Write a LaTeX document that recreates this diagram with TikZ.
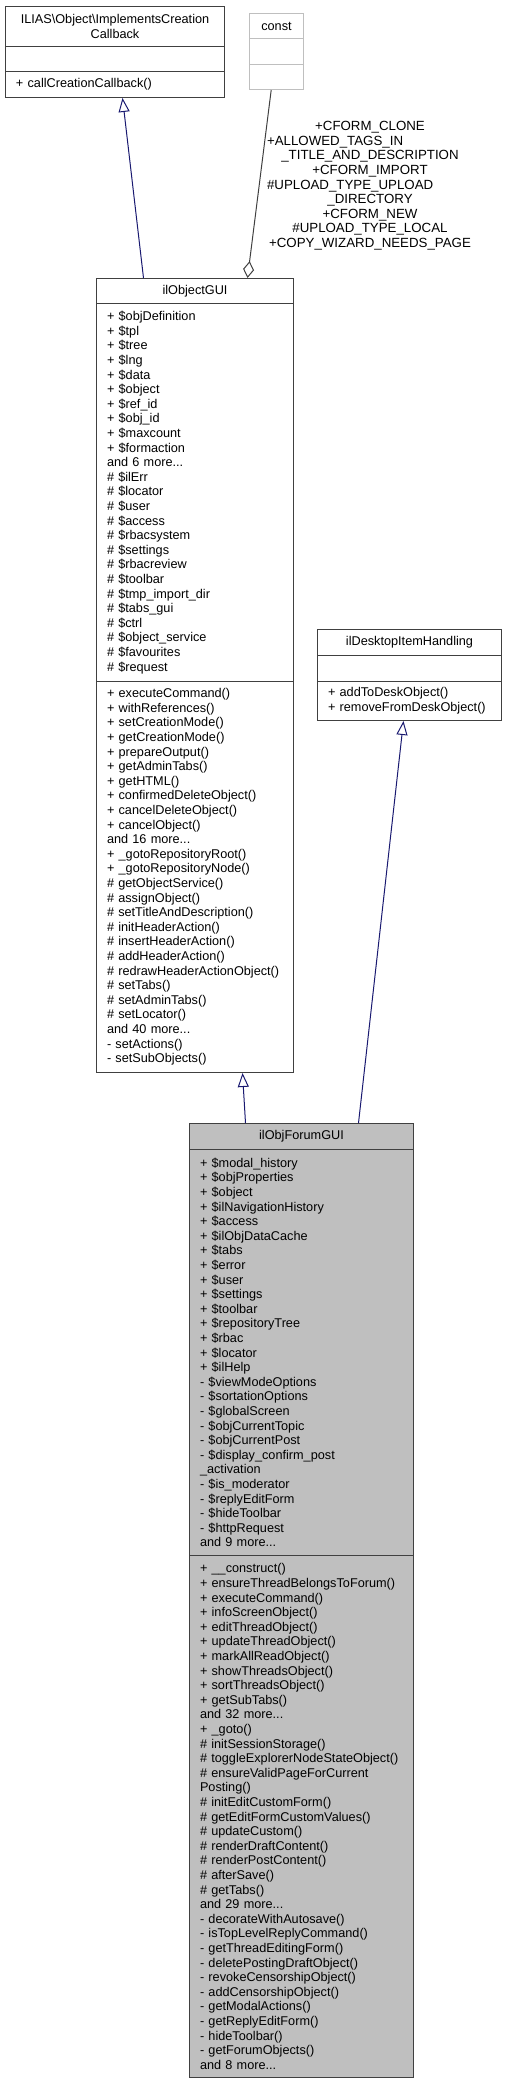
\documentclass[tikz,border=0pt]{standalone}
\usepackage{fontspec}
\setmainfont{Liberation Sans}
\usetikzlibrary{arrows.meta,positioning}

\definecolor{edgeblue}{HTML}{191970}
\definecolor{grey75}{HTML}{BFBFBF}
\definecolor{grey25}{HTML}{404040}
\newcommand{\umlfont}{\fontsize{12.7}{14.6}\selectfont}
\newcommand{\lblfont}{\fontsize{13.3}{14.6}\selectfont}

\begin{document}
\begin{tikzpicture}[x=1pt, y=-1pt, line width=1pt]

   \tikzstyle{head}=[rectangle, draw=grey25, fill=white, anchor=north west, inner sep=0pt, align=center, font=\umlfont]
   \tikzstyle{body}=[rectangle, draw=grey25, fill=white, anchor=north west, inner xsep=10.5pt, inner ysep=0pt, align=left, font=\umlfont]
   \tikzstyle{inherit}=[edgeblue, -{Triangle[open, length=14pt, width=11pt]}]
   \tikzstyle{usage}=[grey25, -{Diamond[open, length=17pt, width=11pt]}]

   \useasboundingbox (0,0) rectangle (507,2085);

   % ILIAS\Object\ImplementsCreationCallback
   \node[head, minimum width=219pt, minimum height=40pt] (cbhead) at (5,6) {ILIAS\textbackslash Object\textbackslash ImplementsCreation\\Callback};
   \node[body, text width=198pt, minimum height=25pt] (cbattr) at (5,46) {};
   \node[body, text width=198pt, minimum height=26pt] (cbops) at (5,71) {+ callCreationCallback()};

   % const
   \node[head, draw=grey75, minimum width=54pt, minimum height=25pt] (cnhead) at (249,13) {const};
   \node[body, draw=grey75, text width=33pt, minimum height=26pt] (cnattr) at (249,38) {};
   \node[body, draw=grey75, text width=33pt, minimum height=25pt] (cnops) at (249,64) {};

   \node[font=\lblfont, text width=206pt, align=center, inner sep=0pt] (cnlbl) at (370,185.8) {+CFORM\_CLONE\\\makebox[\hsize][l]{+ALLOWED\_TAGS\_IN}\\\_TITLE\_AND\_DESCRIPTION\\+CFORM\_IMPORT\\\makebox[\hsize][l]{\#UPLOAD\_TYPE\_UPLOAD}\\\_DIRECTORY\\+CFORM\_NEW\\\#UPLOAD\_TYPE\_LOCAL\\+COPY\_WIZARD\_NEEDS\_PAGE};

   % ilObjectGUI
   \node[head, minimum width=197pt, minimum height=25pt] (oghead) at (96,278) {ilObjectGUI};
   \node[body, text width=176pt, minimum height=378pt] (ogattr) at (96,303) {+ \$objDefinition\\+ \$tpl\\+ \$tree\\+ \$lng\\+ \$data\\+ \$object\\+ \$ref\_id\\+ \$obj\_id\\+ \$maxcount\\+ \$formaction\\and 6 more...\\\# \$ilErr\\\# \$locator\\\# \$user\\\# \$access\\\# \$rbacsystem\\\# \$settings\\\# \$rbacreview\\\# \$toolbar\\\# \$tmp\_import\_dir\\\# \$tabs\_gui\\\# \$ctrl\\\# \$object\_service\\\# \$favourites\\\# \$request};
   \node[body, text width=176pt, minimum height=391pt] (ogops) at (96,681) {+ executeCommand()\\+ withReferences()\\+ setCreationMode()\\+ getCreationMode()\\+ prepareOutput()\\+ getAdminTabs()\\+ getHTML()\\+ confirmedDeleteObject()\\+ cancelDeleteObject()\\+ cancelObject()\\and 16 more...\\+ \_gotoRepositoryRoot()\\+ \_gotoRepositoryNode()\\\# getObjectService()\\\# assignObject()\\\# setTitleAndDescription()\\\# initHeaderAction()\\\# insertHeaderAction()\\\# addHeaderAction()\\\# redrawHeaderActionObject()\\\# setTabs()\\\# setAdminTabs()\\\# setLocator()\\and 40 more...\\- setActions()\\- setSubObjects()};

   % ilDesktopItemHandling
   \node[head, minimum width=184pt, minimum height=26pt] (dkhead) at (317,629) {ilDesktopItemHandling};
   \node[body, text width=163pt, minimum height=26pt] (dkattr) at (317,655) {};
   \node[body, text width=163pt, minimum height=39pt] (dkops) at (317,681) {+ addToDeskObject()\\+ removeFromDeskObject()};

   % ilObjForumGUI
   \node[head, fill=grey75, minimum width=224pt, minimum height=26pt] (fghead) at (189,1123) {ilObjForumGUI};
   \node[body, fill=grey75, text width=203pt, minimum height=406pt] (fgattr) at (189,1149) {+ \$modal\_history\\+ \$objProperties\\+ \$object\\+ \$ilNavigationHistory\\+ \$access\\+ \$ilObjDataCache\\+ \$tabs\\+ \$error\\+ \$user\\+ \$settings\\+ \$toolbar\\+ \$repositoryTree\\+ \$rbac\\+ \$locator\\+ \$ilHelp\\- \$viewModeOptions\\- \$sortationOptions\\- \$globalScreen\\- \$objCurrentTopic\\- \$objCurrentPost\\- \$display\_confirm\_post\\\_activation\\- \$is\_moderator\\- \$replyEditForm\\- \$hideToolbar\\- \$httpRequest\\and 9 more...};
   \node[body, fill=grey75, text width=203pt, minimum height=522pt] (fgops) at (189,1555) {+ \_\_construct()\\+ ensureThreadBelongsToForum()\\+ executeCommand()\\+ infoScreenObject()\\+ editThreadObject()\\+ updateThreadObject()\\+ markAllReadObject()\\+ showThreadsObject()\\+ sortThreadsObject()\\+ getSubTabs()\\and 32 more...\\+ \_goto()\\\# initSessionStorage()\\\# toggleExplorerNodeStateObject()\\\# ensureValidPageForCurrent\\Posting()\\\# initEditCustomForm()\\\# getEditFormCustomValues()\\\# updateCustom()\\\# renderDraftContent()\\\# renderPostContent()\\\# afterSave()\\\# getTabs()\\and 29 more...\\- decorateWithAutosave()\\- isTopLevelReplyCommand()\\- getThreadEditingForm()\\- deletePostingDraftObject()\\- revokeCensorshipObject()\\- addCensorshipObject()\\- getModalActions()\\- getReplyEditForm()\\- hideToolbar()\\- getForumObjects()\\and 8 more...};

   % links
   \draw[inherit] ([xshift=-51.5pt]oghead.north) -- ([xshift=7.5pt]cbops.south);
   \draw[usage] ([xshift=-5.3pt]cnops.south) -- ([xshift=52.5pt]oghead.north);
   \draw[inherit] ([xshift=-56pt]fghead.north) -- ([xshift=47.5pt]ogops.south);
   \draw[inherit] ([xshift=57pt]fghead.north) -- ([xshift=-6pt]dkops.south);

\end{tikzpicture}
\end{document}
